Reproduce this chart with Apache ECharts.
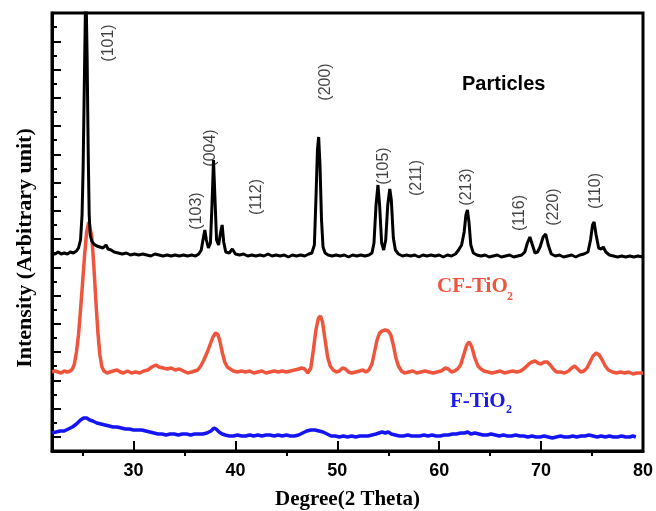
<!DOCTYPE html>
<html>
<head>
<meta charset="utf-8">
<script src="https://cdn.jsdelivr.net/npm/echarts@6/dist/echarts.min.js"></script>
<style>
html,body{margin:0;padding:0;background:#fff;}
#chart{width:656px;height:511px;}
</style>
</head>
<body>
<div id="chart"></div>
<script>
// 2-theta (deg), intensity (arbitrary, offset-stacked)
const particlesData = [
[22.0,198],[22.3,197],[22.6,199],[22.9,197],[23.2,198],[23.5,197],[23.8,199],[24.1,198],[24.4,200],[24.6,203],
[24.8,211],[24.95,236],[25.05,281],[25.15,351],[25.25,421],[25.32,471],[25.38,471],[25.45,391],[25.55,301],[25.65,236],
[25.75,216],[25.9,210],[26.1,207],[26.4,205],[26.7,204],[27.0,203],[27.3,206],[27.5,202],[27.8,201],[28.1,199],
[28.5,198],[28.9,197],[29.3,198],[29.7,196],[30.1,197],[30.5,196],[30.9,197],[31.3,196],[31.7,195],[32.1,197],
[32.5,196],[32.9,195],[33.3,196],[33.7,195],[34.1,196],[34.5,195],[34.9,196],[35.3,195],[35.7,196],[36.1,195],
[36.4,197],[36.65,201],[36.85,213],[37.0,221],[37.15,211],[37.35,203],[37.55,208],[37.7,246],[37.85,291],[38.0,251],
[38.15,211],[38.35,206],[38.55,219],[38.7,226],[38.85,209],[39.05,199],[39.4,198],[39.7,202],[40.0,197],[40.4,196],
[40.8,197],[41.2,195],[41.6,196],[42.0,195],[42.4,196],[42.8,195],[43.2,197],[43.6,195],[44.0,196],[44.4,195],
[44.8,196],[45.2,194],[45.6,196],[46.0,195],[46.4,196],[46.8,195],[47.2,197],[47.5,198],[47.75,206],[47.9,251],
[48.05,301],[48.17,314],[48.3,286],[48.45,231],[48.6,204],[48.8,198],[49.1,196],[49.5,195],[49.9,196],[50.3,195],
[50.7,196],[51.1,194],[51.5,196],[51.9,195],[52.3,196],[52.7,195],[53.1,196],[53.4,198],[53.6,208],[53.8,246],
[53.99,266],[54.15,246],[54.35,208],[54.55,201],[54.75,211],[54.95,246],[55.15,262],[55.3,251],[55.5,213],[55.7,201],
[56.0,197],[56.4,195],[56.8,196],[57.2,195],[57.6,196],[58.0,194],[58.4,196],[58.8,195],[59.2,196],[59.6,195],
[60.0,196],[60.4,194],[60.8,196],[61.2,195],[61.6,197],[61.9,201],[62.2,206],[62.45,219],[62.62,236],[62.77,241],
[62.92,229],[63.1,206],[63.35,198],[63.7,196],[64.1,195],[64.5,196],[64.9,194],[65.3,195],[65.7,196],[66.1,194],
[66.5,195],[66.9,196],[67.3,194],[67.7,195],[68.1,196],[68.4,199],[68.65,208],[68.9,214],[69.15,206],[69.4,198],
[69.65,199],[69.9,204],[70.2,214],[70.45,217],[70.7,206],[71.0,197],[71.4,195],[71.8,196],[72.2,194],[72.6,195],
[73.0,196],[73.4,194],[73.8,196],[74.2,197],[74.6,199],[74.85,211],[75.05,226],[75.2,229],[75.4,216],[75.65,203],
[75.9,202],[76.1,204],[76.35,199],[76.7,196],[77.1,195],[77.5,194],[77.9,195],[78.3,194],[78.7,195],[79.1,194],
[79.5,195],[80.0,194]
];
const cfTiO2Data = [
[22.0,79],[22.3,80],[22.6,79],[22.9,78],[23.2,80],[23.5,79],[23.8,80],[24.0,82],[24.2,87],[24.4,99],
[24.6,116],[24.8,141],[25.0,168],[25.2,196],[25.4,219],[25.6,229],[25.75,227],[25.9,215],[26.1,186],[26.3,151],
[26.5,119],[26.7,96],[26.9,84],[27.1,80],[27.4,78],[27.7,79],[28.0,80],[28.4,81],[28.7,79],[29.0,78],
[29.4,80],[29.8,78],[30.2,79],[30.6,78],[31.0,80],[31.4,81],[31.8,84],[32.2,86],[32.5,84],[32.9,83],
[33.3,82],[33.7,83],[34.1,81],[34.5,82],[34.9,80],[35.3,78],[35.7,79],[36.0,80],[36.3,81],[36.6,85],
[36.9,91],[37.2,98],[37.5,106],[37.8,114],[38.05,118],[38.25,117],[38.45,111],[38.7,99],[38.95,89],[39.2,84],
[39.5,82],[39.8,80],[40.2,79],[40.6,80],[41.0,79],[41.4,80],[41.8,78],[42.2,79],[42.6,80],[43.0,78],
[43.4,79],[43.8,80],[44.2,79],[44.6,80],[45.0,79],[45.4,80],[45.8,81],[46.2,82],[46.5,83],[46.8,82],
[47.1,78],[47.4,83],[47.65,101],[47.9,121],[48.15,133],[48.35,135],[48.55,129],[48.8,111],[49.05,94],[49.3,85],
[49.6,81],[49.9,79],[50.2,80],[50.5,83],[50.8,82],[51.1,79],[51.4,78],[51.8,79],[52.2,80],[52.5,81],
[52.8,79],[53.1,81],[53.4,87],[53.65,99],[53.9,111],[54.15,118],[54.4,120],[54.7,121],[55.0,120],[55.25,116],
[55.5,106],[55.75,93],[56.0,85],[56.3,80],[56.6,78],[57.0,79],[57.4,80],[57.8,78],[58.2,79],[58.6,80],
[59.0,79],[59.4,78],[59.8,79],[60.2,80],[60.6,83],[60.9,82],[61.2,79],[61.5,80],[61.8,82],[62.1,86],
[62.4,96],[62.7,106],[62.95,109],[63.2,104],[63.5,93],[63.8,85],[64.1,82],[64.4,80],[64.8,79],[65.2,78],
[65.6,79],[66.0,80],[66.4,78],[66.8,79],[67.2,80],[67.6,79],[68.0,80],[68.4,83],[68.8,87],[69.1,89],
[69.4,90],[69.7,88],[70.0,87],[70.3,89],[70.6,89],[70.9,86],[71.2,82],[71.5,79],[71.9,79],[72.3,78],
[72.7,80],[73.0,83],[73.3,85],[73.6,82],[73.9,79],[74.2,80],[74.5,83],[74.8,89],[75.1,95],[75.4,98],
[75.7,96],[76.0,91],[76.3,85],[76.6,81],[77.0,79],[77.4,78],[77.8,79],[78.2,78],[78.6,79],[79.0,77],
[79.4,78],[80.0,78]
];
const fTiO2Data = [
[22.0,18],[22.4,19],[22.8,20],[23.2,20],[23.6,22],[24.0,24],[24.4,27],[24.8,31],[25.1,33],[25.4,33],
[25.7,31],[26.0,30],[26.4,28],[26.8,27],[27.2,26],[27.6,25],[28.0,24],[28.4,24],[28.8,23],[29.2,22],
[29.6,22],[30.0,21],[30.4,21],[30.8,21],[31.2,20],[31.6,19],[32.0,18],[32.4,17],[32.8,17],[33.2,16],
[33.6,17],[34.0,17],[34.4,16],[34.8,17],[35.2,17],[35.6,16],[36.0,17],[36.4,17],[36.8,17],[37.2,18],
[37.6,20],[37.9,23],[38.1,22],[38.4,19],[38.7,17],[39.0,16],[39.4,15],[39.8,15],[40.2,16],[40.6,15],
[41.0,15],[41.4,16],[41.8,15],[42.2,16],[42.6,15],[43.0,16],[43.4,16],[43.8,15],[44.2,16],[44.6,15],
[45.0,16],[45.4,15],[45.8,15],[46.2,16],[46.6,18],[47.0,20],[47.4,21],[47.8,21],[48.2,20],[48.6,19],
[49.0,17],[49.4,15],[49.8,15],[50.2,14],[50.6,15],[51.0,14],[51.4,15],[51.8,14],[52.2,15],[52.6,15],
[53.0,15],[53.4,16],[53.8,17],[54.1,18],[54.4,19],[54.7,18],[55.0,19],[55.3,17],[55.7,16],[56.1,15],
[56.5,15],[56.9,16],[57.3,15],[57.7,15],[58.1,15],[58.5,16],[58.9,15],[59.3,16],[59.7,15],[60.1,15],
[60.5,16],[60.9,16],[61.3,17],[61.7,17],[62.1,18],[62.5,18],[62.8,19],[63.1,17],[63.5,18],[63.9,17],
[64.3,16],[64.7,16],[65.1,17],[65.5,16],[65.9,15],[66.3,16],[66.7,15],[67.1,15],[67.5,16],[67.9,15],
[68.3,15],[68.7,14],[69.1,15],[69.5,14],[69.9,14],[70.3,15],[70.7,14],[71.1,13],[71.5,14],[71.9,15],
[72.3,14],[72.7,14],[73.1,15],[73.5,14],[73.9,15],[74.3,15],[74.7,16],[75.1,15],[75.5,14],[75.9,15],
[76.3,14],[76.7,15],[77.1,14],[77.5,14],[77.9,15],[78.3,14],[78.7,14],[79.0,15],[79.3,14]
];
// Miller index annotations: [2theta, intensity, text]
const peakLabels = [
[27.6,408,'(101)'],[36.18,240,'(103)'],[37.55,303,'(004)'],[42.06,254,'(112)'],
[48.82,369,'(200)'],[54.51,285,'(105)'],[57.75,273,'(211)'],[62.65,264,'(213)'],
[67.84,238,'(116)'],[71.18,244,'(220)'],[75.39,260,'(110)']
];
const xMajorTicks = [30,40,50,60,70,80];
const xMin = 22, xMax = 80;
const xMinorAxisMin = 20;     // helper axis for the 25,35,... minor ticks
const yMax = 438;            // 31 tick steps
const yStep = yMax / 31;

const L = 52, R = 13, T = 13, B = 60, W = 656;
const plotW = W - L - R;
const helperLeft = L - plotW * (xMin - xMinorAxisMin) / (xMax - xMin);

const chart = echarts.init(document.getElementById('chart'), null, {renderer:'canvas'});
chart.setOption({
  animation:false,
  backgroundColor:'#fff',
  grid:[
    {left:L, right:R, top:T, bottom:B, containLabel:false, outerBoundsMode:'none', show:true, borderColor:'#000', borderWidth:3, backgroundColor:'transparent'},
    {left:L, right:R, top:T, bottom:B, containLabel:false, outerBoundsMode:'none', show:false},
    {left:helperLeft, right:R, top:T, bottom:B, containLabel:false, outerBoundsMode:'none', show:false}
  ],
  xAxis:[
    {type:'value', gridIndex:0, min:xMin, max:xMax, position:'bottom',
     axisLine:{show:true, lineStyle:{color:'#000', width:3}},
     axisTick:{show:true, inside:true, length:10, customValues:xMajorTicks, lineStyle:{color:'#000', width:2}},
     axisLabel:{show:true, customValues:xMajorTicks, margin:11, color:'#000', fontSize:18, fontWeight:'bold', fontFamily:'Liberation Sans, Arial, sans-serif'},
     splitLine:{show:false},
     name:'Degree(2 Theta)', nameLocation:'middle', nameGap:38,
     nameTextStyle:{fontFamily:'Liberation Serif, Times New Roman, serif', fontWeight:'bold', fontSize:21, color:'#000'}
    },
    {type:'value', gridIndex:1, min:xMin, max:xMax, show:false},
    {type:'value', gridIndex:2, min:xMinorAxisMin, max:xMax, interval:10, position:'bottom',
     axisLine:{show:false},
     axisTick:{show:false},
     minorTick:{show:true, splitNumber:2, length:5, lineStyle:{color:'#000', width:2}},
     axisLabel:{show:false}, splitLine:{show:false}, minorSplitLine:{show:false}
    }
  ],
  yAxis:[
    {type:'value', gridIndex:0, min:0, max:yMax, interval:yStep, position:'left',
     axisLine:{show:true, lineStyle:{color:'#000', width:3}},
     axisTick:{show:true, inside:true, length:5, lineStyle:{color:'#000', width:2}},
     axisLabel:{show:false}, splitLine:{show:false},
     name:'Intensity (Arbitrary unit)', nameLocation:'middle', nameGap:16,
     nameTextStyle:{fontFamily:'Liberation Serif, Times New Roman, serif', fontWeight:'bold', fontSize:22, color:'#000', padding:[0,32,0,0]}
    },
    {type:'value', gridIndex:1, min:0, max:yMax, interval:yStep*2, inverse:true, position:'left',
     axisLine:{show:false},
     axisTick:{show:true, inside:true, length:9, lineStyle:{color:'#000', width:2}},
     axisLabel:{show:false}, splitLine:{show:false}
    },
    {type:'value', gridIndex:2, min:0, max:yMax, show:false}
  ],
  graphic:[
    {type:'text', left:462, top:74, style:{text:'Particles', fill:'#000', font:'bold 20px "Liberation Sans", Arial, sans-serif'}},
    {type:'text', left:437, top:276, style:{text:'CF-TiO', fill:'#EE553C', font:'bold 21px "Liberation Serif", "Times New Roman", serif'}},
    {type:'text', left:507, top:291, style:{text:'2', fill:'#EE553C', font:'bold 12px "Liberation Serif", "Times New Roman", serif'}},
    {type:'text', left:450, top:391, style:{text:'F-TiO', fill:'#1A1AF0', font:'bold 21px "Liberation Serif", "Times New Roman", serif'}},
    {type:'text', left:506, top:404, style:{text:'2', fill:'#1A1AF0', font:'bold 12px "Liberation Serif", "Times New Roman", serif'}}
  ],
  series:[
    {name:'F-TiO2', type:'line', xAxisIndex:0, yAxisIndex:0, data:fTiO2Data, showSymbol:false, symbol:'none',
     lineStyle:{color:'#1414F5', width:3.5}, z:2},
    {name:'CF-TiO2', type:'line', xAxisIndex:0, yAxisIndex:0, data:cfTiO2Data, showSymbol:false, symbol:'none',
     lineStyle:{color:'#EE553C', width:3.5}, z:3},
    {name:'Particles', type:'line', xAxisIndex:0, yAxisIndex:0, data:particlesData, showSymbol:false, symbol:'none',
     lineStyle:{color:'#000', width:3}, z:4},
    {name:'labels', type:'scatter', xAxisIndex:0, yAxisIndex:0, data:peakLabels, symbolSize:1,
     itemStyle:{color:'rgba(0,0,0,0)'}, silent:true, z:5,
     labelLayout:{hideOverlap:false},
     label:{show:true, position:'inside', rotate:90, formatter:p=>p.value[2], color:'#111',
            fontSize:16, fontFamily:'Liberation Sans, Arial, sans-serif'}}
  ]
});
</script>
</body>
</html>
